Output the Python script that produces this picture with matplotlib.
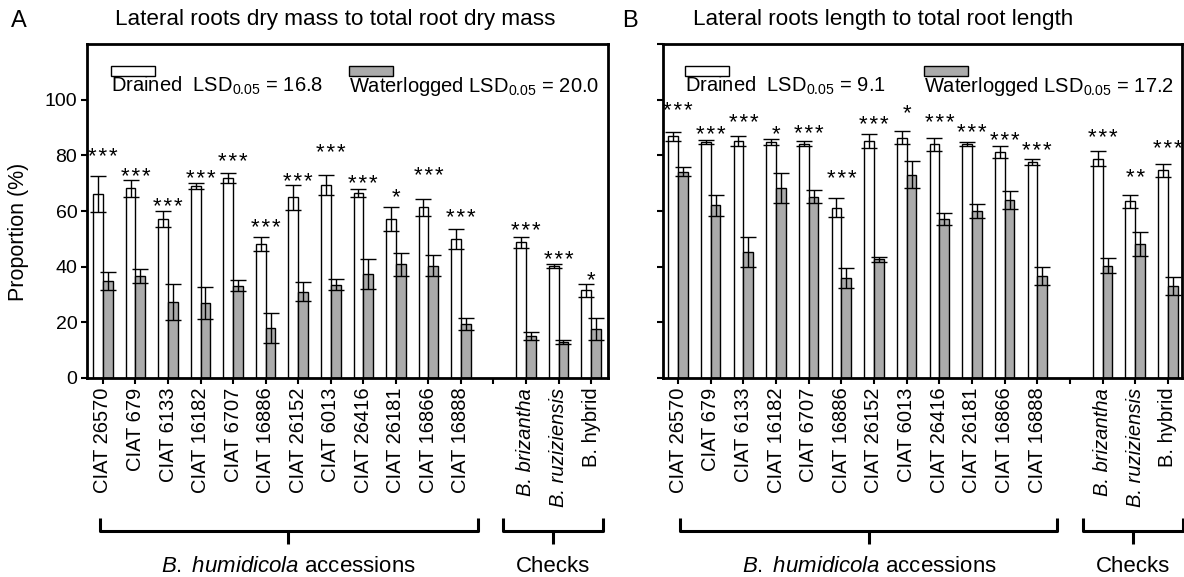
import numpy as np
import matplotlib
matplotlib.use('Agg')
import matplotlib.pyplot as plt
from matplotlib.patches import Rectangle
from matplotlib.lines import Line2D
import matplotlib.transforms as mtransforms

plt.rcParams['font.family'] = ['Liberation Sans', 'DejaVu Sans']
plt.rcParams['mathtext.fontset'] = 'custom'
plt.rcParams['mathtext.rm'] = 'Liberation Sans'
plt.rcParams['mathtext.it'] = 'Liberation Sans:italic'

# ---------------- data ----------------
accessions = ['CIAT 26570', 'CIAT 679', 'CIAT 6133', 'CIAT 16182', 'CIAT 6707',
              'CIAT 16886', 'CIAT 26152', 'CIAT 6013', 'CIAT 26416', 'CIAT 26181',
              'CIAT 16866', 'CIAT 16888']
checks = ['B. brizantha', 'B. ruziziensis', 'B. hybrid']

# Panel A: lateral roots dry mass / total root dry mass (%)
a_drained = [66, 68.2, 57, 68.9, 72, 48.2, 64.9, 69.4, 66.5, 57, 61.3, 50.1, 48.7, 40.3, 31.5]
a_drained_err = [6.5, 3.0, 2.9, 1.1, 1.8, 2.6, 4.4, 3.6, 1.4, 4.3, 3.0, 3.6, 1.9, 0.8, 2.4]
a_water = [34.9, 36.5, 27.4, 27.0, 33.2, 18.0, 31.0, 33.5, 37.3, 40.8, 40.4, 19.5, 15.2, 12.9, 17.5]
a_water_err = [3.2, 2.5, 6.5, 5.7, 1.9, 5.5, 3.5, 2.0, 5.4, 4.1, 3.7, 2.2, 1.5, 0.8, 3.9]
a_sig = ['***', '***', '***', '***', '***', '***', '***', '***', '***', '*', '***', '***',
         '***', '***', '*']
a_sig_y = [81.9, 74.8, 63.9, 73.8, 80.1, 56.3, 72.9, 83.1, 72.3, 67.5, 75.0, 59.9,
           55.4, 44.9, 37.5]
a_lsd = (16.8, 20.0)

# Panel B: lateral roots length / total root length (%)
b_drained = [86.9, 84.8, 85.1, 84.8, 84.2, 61.2, 85.1, 86.3, 83.9, 84.2, 81.2, 77.6, 78.8, 63.5, 74.6]
b_drained_err = [1.6, 0.7, 1.7, 1.2, 0.8, 3.5, 2.4, 2.4, 2.2, 0.7, 2.1, 1.2, 2.7, 2.4, 2.4]
b_water = [74.1, 62.1, 45.3, 68.3, 65.1, 36.0, 42.6, 73.1, 57.2, 60.0, 63.9, 36.6, 40.4, 48.2, 33.0]
b_water_err = [1.7, 3.8, 5.5, 5.4, 2.4, 3.7, 1.0, 5.0, 2.2, 2.6, 3.2, 3.2, 2.8, 4.3, 3.2]
b_sig = ['***', '***', '***', '*', '***', '***', '***', '*', '***', '***', '***', '***',
         '***', '**', '***']
b_sig_y = [98.3, 89.8, 94.2, 90.1, 90.1, 74.0, 93.3, 97.5, 93.9, 90.6, 87.6, 83.8,
           88.6, 74.3, 84.6]
b_lsd = (9.1, 17.2)

positions = list(range(12)) + [13, 14, 15]
tick_pos = list(range(16))
tick_labels = accessions + [''] + checks

W, H = 1184, 577
GREY = '#ababab'
FS_XTICK = 14.5
FS_YTICK = 14
FS_TXT = 14.5
FS_TITLE = 16.2
FS_GROUP = 16

fig = plt.figure(figsize=(W / 100, H / 100), dpi=100)


def fx(px):
    return px / W


def fy(py):
    return 1 - py / H


def panel(ax_rect, xlim, drained, derr, water, werr, sig, sig_y, show_ylabels):
    ax = fig.add_axes(ax_rect)
    bw = 0.3
    p = np.array(positions, dtype=float)
    ekw = dict(ecolor='black', elinewidth=1.0, capsize=5.5, capthick=1.0)
    ax.bar(p - bw / 2, drained, bw, color='white', edgecolor='black', linewidth=1.0,
           yerr=derr, error_kw=ekw, zorder=2)
    ax.bar(p + bw / 2, water, bw, color=GREY, edgecolor='black', linewidth=1.0,
           yerr=werr, error_kw=ekw, zorder=2)
    for xi, s, yy in zip(p, sig, sig_y):
        ax.text(xi, yy - 2.6, '\u200a'.join(s), ha='center', va='center', fontsize=16)
    ax.set_xlim(*xlim)
    ax.set_ylim(0, 120)
    ax.set_xticks(tick_pos)
    labs = ax.set_xticklabels(tick_labels, rotation=90, fontsize=FS_XTICK, va='top')
    labs[13].set_style('italic')
    labs[14].set_style('italic')
    labs[15].set_text(r'$\mathit{B.}$ hybrid')
    if show_ylabels:
        ax.set_yticks([0, 20, 40, 60, 80, 100])
        ax.set_yticklabels(['0', '20', '40', '60', '80', '100'], fontsize=FS_YTICK)
    else:
        ax.set_yticks([0, 20, 40, 60, 80, 100, 120])
        ax.set_yticklabels([])
    ax.tick_params(axis='both', direction='out', length=4, width=1.5, pad=3)
    for sp in ax.spines.values():
        sp.set_linewidth(2.0)
    return ax


axA = panel([fx(87), fy(378), fx(608 - 87), (378 - 44) / H], (-0.49, 15.52),
            a_drained, a_drained_err, a_water, a_water_err, a_sig, a_sig_y, True)
axB = panel([fx(663), fy(378), fx(1182 - 663), (378 - 44) / H], (-0.46, 15.43),
            b_drained, b_drained_err, b_water, b_water_err, b_sig, b_sig_y, False)


# legends inside panels
def legend(ax, x_white, x_grey, lsd):
    trans = mtransforms.blended_transform_factory(fig.transFigure, ax.transData)
    for xp, col in ((x_white, 'white'), (x_grey, GREY)):
        ax.add_patch(Rectangle((fx(xp), 108.6), fx(44), 3.4, transform=trans,
                               facecolor=col, edgecolor='black', linewidth=1.0,
                               clip_on=False, zorder=3))
    ax.text(fx(x_white), 104.8, 'Drained  LSD$_{0.05}$ = %s' % lsd[0], transform=trans,
            ha='left', va='center', fontsize=FS_TXT)
    ax.text(fx(x_grey), 104.8, 'Waterlogged LSD$_{0.05}$ = %s' % lsd[1], transform=trans,
            ha='left', va='center', fontsize=FS_TXT)


legend(axA, 111, 349, a_lsd)
legend(axB, 685, 924, b_lsd)

# titles and panel letters
fig.text(fx(11), fy(21), 'A', fontsize=17, ha='left', va='center')
fig.text(fx(115), fy(20), 'Lateral roots dry mass to total root dry mass',
         fontsize=FS_TITLE, ha='left', va='center')
fig.text(fx(622), fy(21), 'B', fontsize=17, ha='left', va='center')
fig.text(fx(693), fy(20), 'Lateral roots length to total root length',
         fontsize=FS_TITLE, ha='left', va='center')
fig.text(fx(19), fy(232), 'Proportion (%)', rotation=90, fontsize=15.5,
         ha='center', va='center')


# braces under groups
def brace(ax, x0, x1, xc, label):
    trans = mtransforms.blended_transform_factory(ax.transData, fig.transFigure)
    y_top, y_line, y_bot = fy(518), fy(531), fy(544)
    kw = dict(color='black', linewidth=2.2, transform=trans, clip_on=False,
              solid_joinstyle='round', solid_capstyle='butt')
    fig.add_artist(Line2D([x0, x0, x1, x1], [y_top, y_line, y_line, y_top], **kw))
    fig.add_artist(Line2D([xc, xc], [y_line, y_bot], **kw))
    fig.text(xc, fy(567), label, transform=trans, ha='center', va='center',
             fontsize=FS_GROUP)


brace(axA, -0.09, 11.53, 5.69, r'$\mathit{B.\ humidicola}$ accessions')
brace(axA, 12.3, 15.37, 13.83, 'Checks')
brace(axB, 0.06, 11.6, 5.85, r'$\mathit{B.\ humidicola}$ accessions')
brace(axB, 12.4, 15.46, 13.93, 'Checks')

fig.savefig('out.png', dpi=100)
